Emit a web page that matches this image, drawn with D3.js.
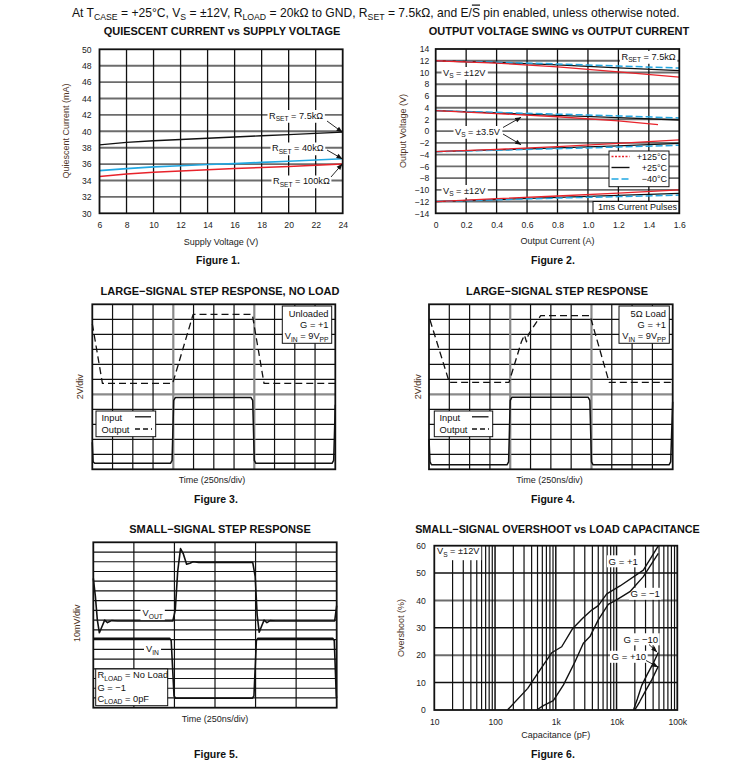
<!DOCTYPE html>
<html><head><meta charset="utf-8">
<script src="https://cdn.jsdelivr.net/npm/d3@7"></script>
<style>body{margin:0;background:#fff}</style>
</head><body>
<svg id="c" width="745" height="774" font-family="'Liberation Sans', Arial, Helvetica, sans-serif"></svg>
<script>
// ---------------- DATA ----------------
// Figure 1: quiescent current vs supply voltage
const fig1Voltage   = [6, 8, 10, 12, 14, 16, 18, 20, 22, 24];
const fig1Rset7k5   = [38.35, 38.65, 38.85, 39.0, 39.15, 39.3, 39.45, 39.6, 39.75, 39.9];
const fig1Rset40k   = [35.2, 35.45, 35.65, 35.8, 35.95, 36.05, 36.2, 36.35, 36.5, 36.65];
const fig1Rset100k  = [34.5, 34.8, 35.0, 35.15, 35.3, 35.45, 35.6, 35.7, 35.85, 36.0];
const fig1XTicks = [6, 8, 10, 12, 14, 16, 18, 20, 22, 24];
const fig1YTicks = [30, 32, 34, 36, 38, 40, 42, 44, 46, 48, 50];

// Figure 2: output voltage swing vs output current
const fig2Current      = [0, 0.4, 0.8, 1.2, 1.6];
const fig2CurrentShort = [0, 0.4, 0.8, 1.2, 1.46];
const fig2Pos12Hot  = [12, 11.6, 10.95, 10.1, 9.2];
const fig2Pos12Room = [12, 11.7, 11.3, 10.8, 10.3];
const fig2Pos12Cold = [12, 11.75, 11.45, 11.1, 10.75];
const fig2Pos35Hot  = [3.5, 3.0, 2.45, 1.75, 1.1];   // on fig2CurrentShort
const fig2Pos35Room = [3.5, 3.1, 2.7, 2.3, 1.9];
const fig2Pos35Cold = [3.5, 3.2, 2.9, 2.6, 2.25];
const fig2Neg35Hot  = [-3.5, -3.1, -2.65, -2.1, -1.5];
const fig2Neg35Room = [-3.5, -3.2, -2.85, -2.5, -2.1];
const fig2Neg35Cold = [-3.5, -3.25, -3.0, -2.7, -2.4];
const fig2Neg12Hot  = [-12, -11.5, -11.05, -10.55, -10.0];
const fig2Neg12Room = [-12, -11.65, -11.3, -10.95, -10.6];
const fig2Neg12Cold = [-12, -11.7, -11.4, -11.15, -10.9];
const fig2XTicks = [0, 0.2, 0.4, 0.6, 0.8, 1.0, 1.2, 1.4, 1.6];
const fig2YTicks = [-14, -12, -10, -8, -6, -4, -2, 0, 2, 4, 6, 8, 10, 12, 14];

// Figure 3: large-signal step, no load (time in div, level in div)
const fig3InputTime   = [0, 0.04, 0.12, 3.86, 3.94, 4.02, 4.1, 7.84, 7.92, 8.0, 8.08, 11.84, 11.92, 12];
const fig3InputLevel  = [1.8, 0.5, 0.4, 0.4, 0.6, 4.6, 4.78, 4.78, 4.6, 0.6, 0.4, 0.4, 0.6, 4.3];
const fig3OutputTime  = [0, 0.5, 3.97, 4.98, 7.9, 8.48, 12];
const fig3OutputLevel = [9.7, 5.73, 5.73, 10.33, 10.33, 5.73, 5.73];

// Figure 4: large-signal step, 5 ohm load
const fig4InputTime   = [0, 0.05, 0.12, 3.84, 3.92, 4.0, 4.08, 7.84, 7.92, 8.0, 8.08, 11.82, 11.9, 12];
const fig4InputLevel  = [2.0, 0.5, 0.3, 0.3, 0.5, 4.6, 4.8, 4.8, 4.6, 0.5, 0.3, 0.3, 0.5, 4.5];
const fig4OutputTime  = [0.05, 1.0, 3.94, 4.55, 4.7, 4.8, 4.9, 5.5, 7.93, 8.87, 12];
const fig4OutputLevel = [9.95, 5.8, 5.8, 8.5, 8.95, 8.5, 9.0, 10.24, 10.24, 5.8, 5.8];

// Figure 5: small-signal step (time in div, level in div)
const fig5OutTime  = [0, 0.05, 0.1, 0.15, 0.22, 0.28, 0.35, 0.45, 0.6, 1.96, 2.02, 2.08, 2.15, 2.22, 2.3, 2.38, 2.46, 2.6, 3.93, 3.99, 4.04, 4.09, 4.15, 4.21, 4.28, 4.36, 4.5, 5.95, 6.0];
const fig5OutLevel = [13.3, 11.5, 9.0, 7.7, 8.4, 9.0, 8.75, 8.95, 8.91, 8.91, 10.0, 14.0, 16.35, 15.8, 14.75, 14.85, 15.0, 14.94, 14.94, 13.5, 9.5, 7.75, 8.4, 9.0, 8.75, 8.95, 8.91, 8.91, 10.5];
const fig5InTime   = [0, 1.88, 1.92, 1.99, 2.03, 3.92, 3.96, 4.02, 4.06, 5.9, 5.94, 5.99, 6.0];
const fig5InLevel  = [7.13, 7.13, 6.9, 1.2, 0.97, 0.97, 1.2, 6.9, 7.13, 7.13, 6.9, 1.2, 1.0];

// Figure 6: overshoot vs load capacitance
const fig6GainP1Cap   = [160, 345, 484, 855, 1250, 1900, 2770, 3900, 5000, 6900, 11400, 27600, 48700];
const fig6GainP1Over  = [0, 7.9, 12.8, 20.9, 23.1, 29.8, 33.5, 36.5, 38.1, 42.4, 45.3, 51.1, 59.9];
const fig6GainM1Cap   = [484, 624, 910, 1330, 2070, 2840, 3650, 5000, 7300, 10000, 16600, 27600, 48700];
const fig6GainM1Over  = [0, 1.6, 3.4, 9.1, 17.6, 24.4, 26.8, 32.9, 38.6, 40.2, 43.2, 48.7, 57.2];
const fig6GainM10Cap  = [19000, 22000, 26000, 32000, 40000, 48700];
const fig6GainM10Over = [0, 4, 9, 13, 17, 21];
const fig6GainP10Cap  = [20000, 24000, 30000, 38000, 48700];
const fig6GainP10Over = [0, 3, 7, 11, 16];
const fig6XTicks = [10, 100, 1000, 10000, 100000];
const fig6XTickLabels = ["10", "100", "1k", "10k", "100k"];
const fig6YTicks = [0, 10, 20, 30, 40, 50, 60];

// ---------------- DRAWING ----------------
const svg = d3.select("#c");
const RED = "#e8232b", BLUE = "#22a8e2", INK = "#111", GRAY = "#6c6c6c", BROWN = "#4d3325";

const defs = svg.append("defs");
defs.append("marker").attr("id", "arr").attr("viewBox", "0 0 10 10")
  .attr("refX", 9.5).attr("refY", 5).attr("markerWidth", 7).attr("markerHeight", 6)
  .attr("orient", "auto").attr("markerUnits", "userSpaceOnUse")
  .append("path").attr("d", "M0,1L10,5L0,9Z").attr("fill", INK);

function rich(g, x, y, parts, o = {}) {
  const size = o.size || 9;
  const t = g.append("text").attr("x", x).attr("y", y).attr("font-size", size)
    .attr("text-anchor", o.anchor || "start").attr("font-weight", o.weight || "normal")
    .attr("fill", o.fill || INK);
  let shift = 0;
  parts.forEach(p => {
    const s = Array.isArray(p) ? p[0] : p, kind = Array.isArray(p) ? p[1] : null;
    const ts = t.append("tspan").text(s);
    if (kind === "sub") {
      const d = size * 0.3;
      ts.attr("font-size", size * 0.72).attr("dy", d - shift); shift = d;
    } else {
      if (shift) { ts.attr("dy", -shift); shift = 0; }
      if (kind === "over") ts.attr("text-decoration", "overline");
    }
  });
  if (o.bg) {
    const b = t.node().getBBox(), pd = o.pad == null ? 1.5 : o.pad;
    g.insert("rect", () => t.node()).attr("x", b.x - pd).attr("y", b.y - 0.5)
      .attr("width", b.width + 2 * pd).attr("height", b.height + 1).attr("fill", "#fff");
  }
  return t;
}
function line(g, x1, y1, x2, y2, color, w) {
  return g.append("line").attr("x1", x1).attr("y1", y1).attr("x2", x2).attr("y2", y2)
    .attr("stroke", color).attr("stroke-width", w);
}
function arrow(g, x1, y1, x2, y2) {
  line(g, x1, y1, x2, y2, INK, 0.9).attr("marker-end", "url(#arr)");
}
function frame(g, P) {
  g.append("rect").attr("x", P.x0).attr("y", P.y0).attr("width", P.x1 - P.x0)
    .attr("height", P.y1 - P.y0).attr("fill", "none").attr("stroke", INK).attr("stroke-width", 1.8);
}
function box(g, x0, y0, x1, y1) {
  g.append("rect").attr("x", x0).attr("y", y0).attr("width", x1 - x0).attr("height", y1 - y0)
    .attr("fill", "#fff").attr("stroke", INK).attr("stroke-width", 1);
}
function path(g, xs, ys, xsc, ysc, color, w, dash) {
  const pts = xs.map((v, i) => [xsc(v), ysc(ys[i])]);
  const p = g.append("path").attr("d", d3.line()(pts)).attr("fill", "none")
    .attr("stroke", color).attr("stroke-width", w).attr("stroke-linejoin", "round");
  if (dash) p.attr("stroke-dasharray", dash);
  return p;
}
function styleAxis(ax, size) {
  ax.select(".domain").remove();
  ax.selectAll("text").attr("font-size", size || 8.6).attr("fill", "#222").attr("font-family", null);
}
function title(txt, x, y, size) {
  svg.append("text").attr("x", x).attr("y", y).attr("text-anchor", "middle")
    .attr("font-size", size || 11).attr("font-weight", "bold").attr("fill", INK).text(txt);
}
function figLabel(txt, x, y) {
  svg.append("text").attr("x", x).attr("y", y).attr("text-anchor", "middle")
    .attr("font-size", 10.5).attr("font-weight", "bold").attr("fill", INK).text(txt);
}
function xTitle(txt, x, y) {
  svg.append("text").attr("x", x).attr("y", y).attr("text-anchor", "middle")
    .attr("font-size", 9).attr("fill", "#222").text(txt);
}
function yTitle(txt, x, y) {
  svg.append("text").attr("transform", `translate(${x},${y}) rotate(-90)`).attr("text-anchor", "middle")
    .attr("font-size", 9).attr("fill", BROWN).text(txt);
}

// header
rich(svg, 72, 16.5, ["At T", ["CASE", "sub"], " = +25°C, V", ["S", "sub"], " = ±12V, R", ["LOAD", "sub"],
  " = 20kΩ to GND, R", ["SET", "sub"], " = 7.5kΩ, and E/", ["S", "over"], " pin enabled, unless otherwise noted."],
  { size: 12.1 });

// ===== Figure 1 =====
{
  const P = { x0: 99.5, x1: 342.7, y0: 49.3, y1: 213.3 };
  const g = svg.append("g");
  const x = d3.scaleLinear([6, 24], [P.x0, P.x1]);
  const y = d3.scaleLinear([30, 50], [P.y1, P.y0]);
  fig1YTicks.slice(1, -1).forEach(v => line(g, P.x0, y(v), P.x1, y(v), GRAY, 1.9));
  fig1XTicks.slice(1, -1).forEach(v => line(g, x(v), P.y0, x(v), P.y1, INK, 1.3));
  rich(g, 269, 118.5, ["R", ["SET", "sub"], " = 7.5kΩ"], { size: 9.2, bg: true });
  rich(g, 272, 151, ["R", ["SET", "sub"], " = 40kΩ"], { size: 9.2, bg: true });
  rich(g, 273, 184, ["R", ["SET", "sub"], " = 100kΩ"], { size: 9.2, bg: true });
  path(g, fig1Voltage, fig1Rset7k5, x, y, INK, 1.4);
  path(g, fig1Voltage, fig1Rset40k, x, y, BLUE, 1.7);
  path(g, fig1Voltage, fig1Rset100k, x, y, RED, 1.5);
  arrow(g, 327, 121, x(24) - 0.5, y(39.9));
  arrow(g, 327, 150, x(24) - 0.5, y(36.65));
  arrow(g, 331, 177, x(24) - 0.5, y(36.0));
  frame(g, P);
  const ax = g.append("g").attr("transform", `translate(0,${P.y1})`)
    .call(d3.axisBottom(x).tickValues(fig1XTicks).tickSize(0).tickPadding(9));
  styleAxis(ax);
  const ay = g.append("g").attr("transform", `translate(${P.x0},0)`)
    .call(d3.axisLeft(y).tickValues(fig1YTicks).tickSize(0).tickPadding(8));
  styleAxis(ay);
  title("QUIESCENT CURRENT vs SUPPLY VOLTAGE", 222, 35);
  xTitle("Supply Voltage (V)", 221, 245);
  yTitle("Quiescent Current (mA)", 69, 131);
  figLabel("Figure 1.", 218, 264);
}

// ===== Figure 2 =====
{
  const P = { x0: 435.7, x1: 679.3, y0: 49, y1: 213.3 };
  const g = svg.append("g");
  const x = d3.scaleLinear([0, 1.6], [P.x0, P.x1]);
  const y = d3.scaleLinear([-14, 14], [P.y1, P.y0]);
  fig2YTicks.slice(1, -1).forEach(v => line(g, P.x0, y(v), P.x1, y(v), GRAY, 1.9));
  fig2XTicks.slice(1, -1).forEach(v => line(g, x(v), P.y0, x(v), P.y1, INK, 1.3));
  rich(g, 621.5, 59.5, ["R", ["SET", "sub"], " = 7.5kΩ"], { size: 9.2, bg: true });
  rich(g, 443, 75.5, ["V", ["S", "sub"], " = ±12V"], { size: 9.2, bg: true });
  rich(g, 455, 134.5, ["V", ["S", "sub"], " = ±3.5V"], { size: 9.2, bg: true });
  rich(g, 443, 193.5, ["V", ["S", "sub"], " = ±12V"], { size: 9.2, bg: true });
  const sets = [
    [fig2Pos12Room, fig2Pos12Cold, fig2Pos12Hot, fig2Current],
    [fig2Pos35Room, fig2Pos35Cold, fig2Pos35Hot, fig2CurrentShort],
    [fig2Neg35Room, fig2Neg35Cold, fig2Neg35Hot, fig2Current],
    [fig2Neg12Room, fig2Neg12Cold, fig2Neg12Hot, fig2Current]
  ];
  sets.forEach(([room, cold, hot, hx]) => {
    path(g, fig2Current, room, x, y, INK, 1.3);
    path(g, fig2Current, cold, x, y, BLUE, 1.5, "7,3");
    path(g, hx, hot, x, y, RED, 1.3);
  });
  arrow(g, 503, 127.5, 521, 117.3);
  arrow(g, 503, 134, 521, 144.7);
  // legend
  box(g, 609, 151, 669, 186.7);
  line(g, 611.5, 156.5, 629.5, 156.5, RED, 1.4).attr("stroke-dasharray", "2,1.5");
  line(g, 611.5, 167.5, 629.5, 167.5, INK, 1.4);
  line(g, 611.5, 179, 629.5, 179, BLUE, 1.4).attr("stroke-dasharray", "7,3");
  rich(g, 667, 159.8, ["+125°C"], { size: 9, anchor: "end" });
  rich(g, 667, 170.8, ["+25°C"], { size: 9, anchor: "end" });
  rich(g, 667, 182.3, ["−40°C"], { size: 9, anchor: "end" });
  box(g, 593, 201.5, P.x1, P.y1);
  rich(g, 677, 210.3, ["1ms Current Pulses"], { size: 9, anchor: "end" });
  frame(g, P);
  const ax = g.append("g").attr("transform", `translate(0,${P.y1})`)
    .call(d3.axisBottom(x).tickValues(fig2XTicks).tickSize(0).tickPadding(9).tickFormat(d3.format(".1~f")));
  styleAxis(ax);
  ax.selectAll("text").text(d => d === 0 ? "0" : d3.format(".1f")(d));
  const ay = g.append("g").attr("transform", `translate(${P.x0},0)`)
    .call(d3.axisLeft(y).tickValues(fig2YTicks).tickSize(0).tickPadding(6.5));
  styleAxis(ay);
  title("OUTPUT VOLTAGE SWING vs OUTPUT CURRENT", 559, 35);
  xTitle("Output Current (A)", 557.5, 243.5);
  yTitle("Output Voltage (V)", 406, 131);
  figLabel("Figure 2.", 553, 264);
}

// ===== scope grid helper =====
function scopeGrid(g, P, cols, rows, grayCols, grayRows) {
  const x = d3.scaleLinear([0, cols], [P.x0, P.x1]);
  const y = d3.scaleLinear([0, rows], [P.y1, P.y0]);
  d3.range(1, rows).forEach(r => {
    const gr = grayRows.includes(rows - r);
    line(g, P.x0, y(r), P.x1, y(r), gr ? "#8a8a8a" : INK, gr ? 2.2 : 1.2);
  });
  d3.range(1, cols).forEach(c => {
    const gr = grayCols.includes(c);
    line(g, x(c), P.y0, x(c), P.y1, gr ? "#8a8a8a" : INK, gr ? 2.2 : 1.2);
  });
  return { x, y };
}

// ===== Figure 3 =====
{
  const P = { x0: 92.3, x1: 335.3, y0: 304.3, y1: 469.3 };
  const g = svg.append("g");
  const { x, y } = scopeGrid(g, P, 12, 11, [4, 8], [6]);
  path(g, fig3OutputTime, fig3OutputLevel, x, y, INK, 1.3, "7,4");
  path(g, fig3InputTime, fig3InputLevel, x, y, INK, 1.5);
  box(g, 96, 411, 155.7, 436.7);
  rich(g, 101.5, 421, ["Input"], { size: 9.3 });
  rich(g, 101.5, 432.5, ["Output"], { size: 9.3 });
  line(g, 135, 416.8, 151, 416.8, INK, 1.3);
  line(g, 135, 429, 152, 429, INK, 1.3).attr("stroke-dasharray", "5,3");
  box(g, 282.3, 306, 331.7, 343.3);
  rich(g, 328.5, 316.5, ["Unloaded"], { size: 9.3, anchor: "end" });
  rich(g, 328.5, 327.5, ["G = +1"], { size: 9.3, anchor: "end" });
  rich(g, 328.5, 339, ["V", ["IN", "sub"], " = 9V", ["PP", "sub"]], { size: 9.3, anchor: "end" });
  frame(g, P);
  title("LARGE−SIGNAL STEP RESPONSE, NO LOAD", 220, 294.5);
  xTitle("Time (250ns/div)", 212, 483);
  yTitle("2V/div", 83, 386.8);
  figLabel("Figure 3.", 216, 503);
}

// ===== Figure 4 =====
{
  const P = { x0: 429, x1: 672.7, y0: 304.3, y1: 469.3 };
  const g = svg.append("g");
  const { x, y } = scopeGrid(g, P, 12, 11, [4, 8], [6]);
  path(g, fig4OutputTime, fig4OutputLevel, x, y, INK, 1.3, "7,4");
  path(g, fig4InputTime, fig4InputLevel, x, y, INK, 1.5);
  box(g, 434.3, 411, 492.7, 436.7);
  rich(g, 439.5, 421, ["Input"], { size: 9.3 });
  rich(g, 439.5, 432.5, ["Output"], { size: 9.3 });
  line(g, 472, 416.8, 488.5, 416.8, INK, 1.3);
  line(g, 472, 429, 489, 429, INK, 1.3).attr("stroke-dasharray", "5,3");
  box(g, 619, 306, 669.3, 343.3);
  rich(g, 666, 316.5, ["5Ω Load"], { size: 9.3, anchor: "end" });
  rich(g, 666, 327.5, ["G = +1"], { size: 9.3, anchor: "end" });
  rich(g, 666, 339, ["V", ["IN", "sub"], " = 9V", ["PP", "sub"]], { size: 9.3, anchor: "end" });
  frame(g, P);
  title("LARGE−SIGNAL STEP RESPONSE", 557, 294.5);
  xTitle("Time (250ns/div)", 549.5, 483);
  yTitle("2V/div", 421, 386.8);
  figLabel("Figure 4.", 553, 503);
}

// ===== Figure 5 =====
{
  const P = { x0: 93.3, x1: 336.7, y0: 542.3, y1: 707.7 };
  const g = svg.append("g");
  const { x, y } = scopeGrid(g, P, 6, 17, [], []);
  rich(g, 142.5, 616, ["V", ["OUT", "sub"]], { size: 9.3, bg: true, pad: 2 });
  rich(g, 146, 652.3, ["V", ["IN", "sub"]], { size: 9.3, bg: true, pad: 2 });
  path(g, fig5OutTime, fig5OutLevel, x, y, INK, 1.6);
  path(g, fig5InTime, fig5InLevel, x, y, INK, 1.6);
  box(g, 95.7, 669, 167.7, 705.7);
  rich(g, 97.5, 678, ["R", ["LOAD", "sub"], " = No Load"], { size: 9.3 });
  rich(g, 97.5, 690.5, ["G = −1"], { size: 9.3 });
  rich(g, 97.5, 701.5, ["C", ["LOAD", "sub"], " = 0pF"], { size: 9.3 });
  frame(g, P);
  title("SMALL−SIGNAL STEP RESPONSE", 220, 533);
  xTitle("Time (250ns/div)", 215, 722);
  yTitle("10mV/div", 80, 623.3);
  figLabel("Figure 5.", 216, 758);
}

// ===== Figure 6 =====
{
  const P = { x0: 434.3, x1: 677.3, y0: 545.7, y1: 710 };
  const g = svg.append("g");
  const x = d3.scaleLog([10, 100000], [P.x0, P.x1]);
  const y = d3.scaleLinear([0, 60], [P.y1, P.y0]);
  fig6YTicks.slice(1, -1).forEach(v => {
    const dark = v % 20 === 10;
    line(g, P.x0, y(v), P.x1, y(v), dark ? INK : GRAY, dark ? 1.5 : 2);
  });
  x.ticks().filter(v => v > 10 && v < 100000).forEach(v => {
    const major = fig6XTicks.includes(v);
    line(g, x(v), P.y0, x(v), P.y1, INK, major ? 1.5 : 1.2);
  });
  g.append("rect").attr("x", P.x0).attr("y", P.y0).attr("width", 47).attr("height", 14.5).attr("fill", "#fff");
  rich(g, 437, 553.8, ["V", ["S", "sub"], " = ±12V"], { size: 9.2 });
  rich(g, 608.5, 564.8, ["G = +1"], { size: 9.6, bg: true });
  rich(g, 630.5, 597.3, ["G = −1"], { size: 9.6, bg: true });
  rich(g, 623.5, 642.8, ["G = −10"], { size: 9.6, bg: true });
  rich(g, 611.5, 660.3, ["G = +10"], { size: 9.6, bg: true });
  path(g, fig6GainP1Cap, fig6GainP1Over, x, y, INK, 1.4);
  path(g, fig6GainM1Cap, fig6GainM1Over, x, y, INK, 1.4);
  path(g, fig6GainM10Cap, fig6GainM10Over, x, y, INK, 1.4);
  path(g, fig6GainP10Cap, fig6GainP10Over, x, y, INK, 1.4);
  arrow(g, 649, 644.5, 657, 652);
  arrow(g, 646, 660.5, 658, 667);
  frame(g, P);
  const ax = g.append("g").attr("transform", `translate(0,${P.y1})`)
    .call(d3.axisBottom(x).tickValues(fig6XTicks).tickSize(0).tickPadding(9)
      .tickFormat((d, i) => fig6XTickLabels[i]));
  styleAxis(ax);
  const ay = g.append("g").attr("transform", `translate(${P.x0},0)`)
    .call(d3.axisLeft(y).tickValues(fig6YTicks).tickSize(0).tickPadding(8.5));
  styleAxis(ay);
  title("SMALL−SIGNAL OVERSHOOT vs LOAD CAPACITANCE", 557.5, 533, 10.8);
  xTitle("Capacitance (pF)", 555.7, 738);
  yTitle("Overshoot (%)", 404, 628);
  figLabel("Figure 6.", 553, 758);
}
</script>
</body></html>
